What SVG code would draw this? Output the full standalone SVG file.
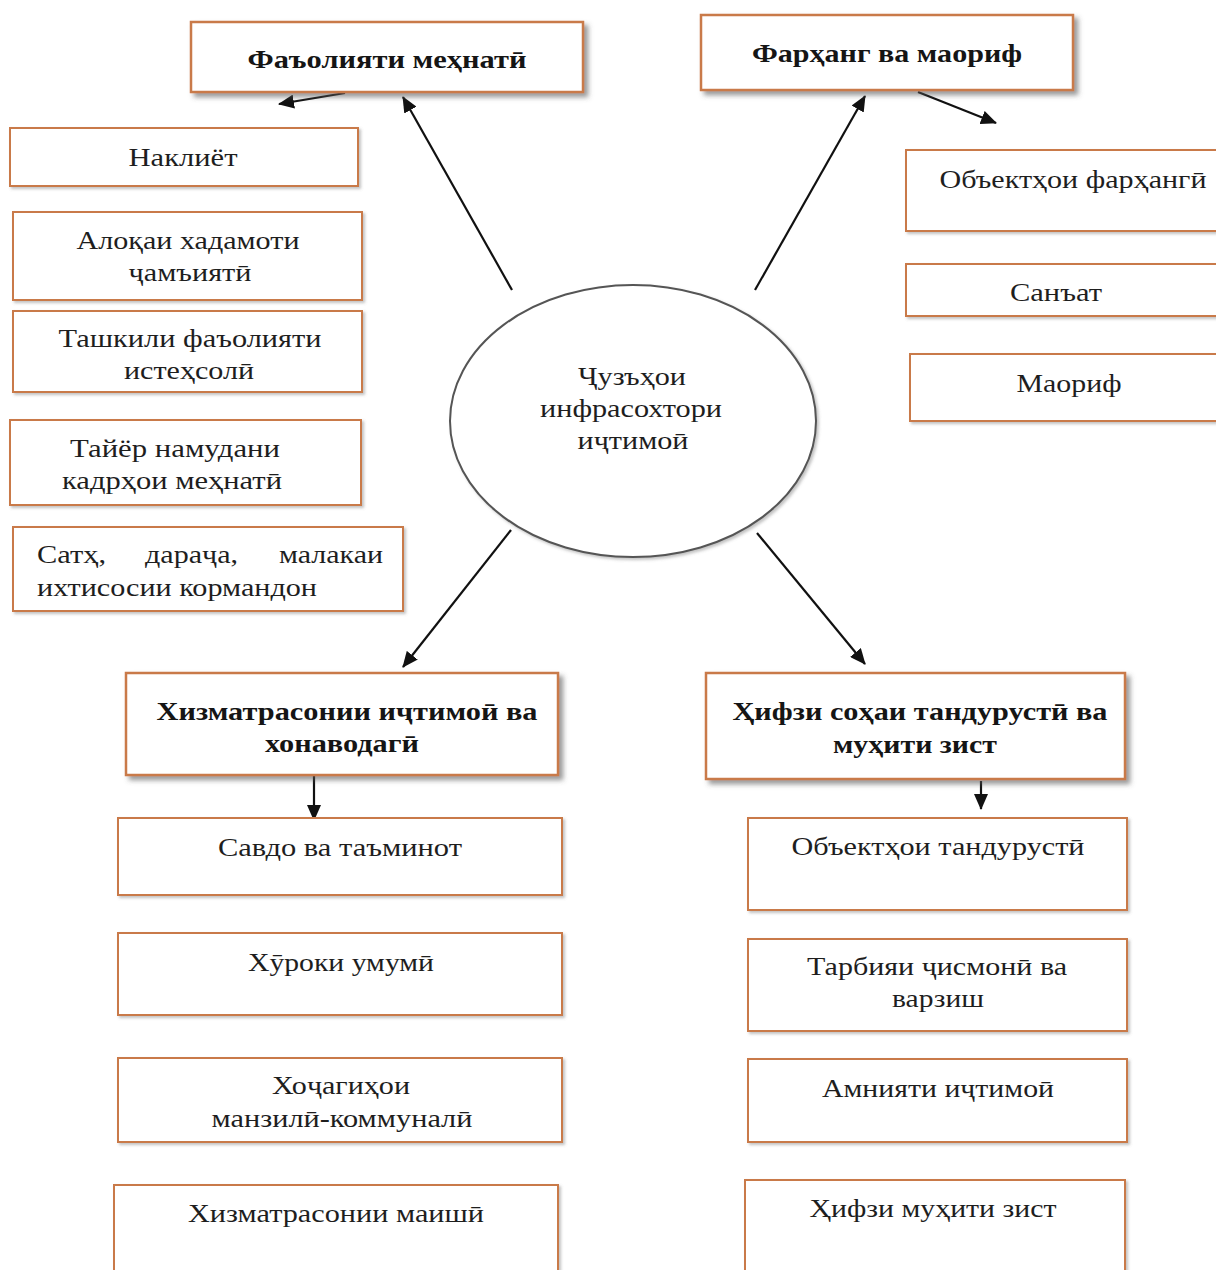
<svg xmlns="http://www.w3.org/2000/svg" width="1216" height="1270" viewBox="0 0 1216 1270">
<style>
.box{fill:#ffffff;stroke:#c97a4a;stroke-width:2}
.hbox{fill:#ffffff;stroke:#c97a4a;stroke-width:2.5;filter:url(#sh)}
.sbox{fill:#ffffff;stroke:#c97a4a;stroke-width:2;filter:url(#sh2)}
.t{font-family:"Liberation Serif","Times New Roman",serif;font-size:26px;fill:#1e1e1e;text-anchor:middle}
.b{font-family:"Liberation Serif","Times New Roman",serif;font-size:25px;font-weight:bold;fill:#151515;text-anchor:middle}
.tl{font-family:"Liberation Serif","Times New Roman",serif;font-size:26px;fill:#1e1e1e}
.c{stroke:#111;stroke-width:2.2;fill:none;marker-end:url(#ah)}
</style>
<defs>
<filter id="sh" x="-10%" y="-20%" width="130%" height="160%">
<feDropShadow dx="4" dy="4" stdDeviation="2.5" flood-color="#555" flood-opacity="0.6"/>
</filter>
<filter id="sh2" x="-10%" y="-20%" width="130%" height="160%">
<feDropShadow dx="2" dy="2" stdDeviation="1.5" flood-color="#777" flood-opacity="0.45"/>
</filter>
<marker id="ah" markerWidth="16" markerHeight="14" refX="15" refY="7" orient="auto" markerUnits="userSpaceOnUse" viewBox="0 0 16 14">
<path d="M0,0 L16,7 L0,14 Z" fill="#111"/>
</marker>
</defs>
<rect width="1216" height="1270" fill="#ffffff"/>

<g id="connectors">
<line class="c" x1="512" y1="290" x2="403" y2="97"/>
<line class="c" x1="345" y1="93" x2="279" y2="104"/>
<line class="c" x1="755" y1="290" x2="865" y2="96"/>
<line class="c" x1="918" y1="92" x2="996" y2="123"/>
<line class="c" x1="511" y1="530" x2="403" y2="667"/>
<line class="c" x1="757" y1="533" x2="865" y2="664"/>
<line class="c" x1="314" y1="776" x2="314" y2="820"/>
<line class="c" x1="981" y1="781" x2="981" y2="809"/>
</g>

<g id="center">
<ellipse cx="633" cy="421" rx="183" ry="136" fill="#ffffff" stroke="#555" stroke-width="2" filter="url(#sh2)"/>
<text class="t" x="632" y="385" textLength="108" lengthAdjust="spacingAndGlyphs">Ҷузъҳои</text>
<text class="t" x="631" y="417" textLength="182" lengthAdjust="spacingAndGlyphs">инфрасохтори</text>
<text class="t" x="633" y="449" textLength="111" lengthAdjust="spacingAndGlyphs">иҷтимоӣ</text>
</g>

<g id="faoliyat">
<rect class="hbox" x="191" y="22" width="392" height="70"/>
<text class="b" x="387" y="68" textLength="279" lengthAdjust="spacingAndGlyphs">Фаъолияти меҳнатӣ</text>
</g>
<g id="farhang">
<rect class="hbox" x="701" y="15" width="372" height="75"/>
<text class="b" x="887" y="62" textLength="270" lengthAdjust="spacingAndGlyphs">Фарҳанг ва маориф</text>
</g>

<g id="nakliyot">
<rect class="sbox" x="10" y="128" width="348" height="58"/>
<text class="t" x="183" y="166" textLength="109" lengthAdjust="spacingAndGlyphs">Наклиёт</text>
</g>
<g id="aloka">
<rect class="sbox" x="13" y="212" width="349" height="88"/>
<text class="t" x="188" y="249" textLength="223" lengthAdjust="spacingAndGlyphs">Алоқаи хадамоти</text>
<text class="t" x="190" y="281" textLength="123" lengthAdjust="spacingAndGlyphs">ҷамъиятӣ</text>
</g>
<g id="tashkil">
<rect class="sbox" x="13" y="311" width="349" height="81"/>
<text class="t" x="190" y="347" textLength="263" lengthAdjust="spacingAndGlyphs">Ташкили фаъолияти</text>
<text class="t" x="189" y="379" textLength="130" lengthAdjust="spacingAndGlyphs">истеҳсолӣ</text>
</g>
<g id="tayyor">
<rect class="sbox" x="10" y="420" width="351" height="85"/>
<text class="t" x="175" y="457" textLength="210" lengthAdjust="spacingAndGlyphs">Тайёр намудани</text>
<text class="t" x="172" y="489" textLength="220" lengthAdjust="spacingAndGlyphs">кадрҳои меҳнатӣ</text>
</g>
<g id="sath">
<rect class="sbox" x="13" y="527" width="390" height="84"/>
<text class="tl" x="37" y="563" textLength="69" lengthAdjust="spacingAndGlyphs">Сатҳ,</text>
<text class="tl" x="145" y="563" textLength="93" lengthAdjust="spacingAndGlyphs">дараҷа,</text>
<text class="tl" x="279" y="563" textLength="104" lengthAdjust="spacingAndGlyphs">малакаи</text>
<text class="tl" x="37" y="596" textLength="280" lengthAdjust="spacingAndGlyphs">ихтисосии кормандон</text>
</g>

<g id="obyekt-farhangi">
<rect class="sbox" x="906" y="150" width="320" height="81"/>
<text class="t" x="1073" y="188" textLength="267" lengthAdjust="spacingAndGlyphs">Объектҳои фарҳангӣ</text>
</g>
<g id="sanat">
<rect class="sbox" x="906" y="264" width="320" height="52"/>
<text class="t" x="1056" y="301" textLength="92" lengthAdjust="spacingAndGlyphs">Санъат</text>
</g>
<g id="maorif">
<rect class="sbox" x="910" y="354" width="316" height="67"/>
<text class="t" x="1069" y="392" textLength="105" lengthAdjust="spacingAndGlyphs">Маориф</text>
</g>

<g id="khizmat">
<rect class="hbox" x="126" y="673" width="432" height="102"/>
<text class="b" x="347" y="720" textLength="381" lengthAdjust="spacingAndGlyphs">Хизматрасонии иҷтимоӣ ва</text>
<text class="b" x="342" y="752" textLength="154" lengthAdjust="spacingAndGlyphs">хонаводагӣ</text>
</g>
<g id="hifz">
<rect class="hbox" x="706" y="673" width="419" height="106"/>
<text class="b" x="920" y="720" textLength="375" lengthAdjust="spacingAndGlyphs">Ҳифзи соҳаи тандурустӣ ва</text>
<text class="b" x="915" y="753" textLength="164" lengthAdjust="spacingAndGlyphs">муҳити зист</text>
</g>

<g id="savdo">
<rect class="sbox" x="118" y="818" width="444" height="77"/>
<text class="t" x="340" y="856" textLength="244" lengthAdjust="spacingAndGlyphs">Савдо ва таъминот</text>
</g>
<g id="khuroki">
<rect class="sbox" x="118" y="933" width="444" height="82"/>
<text class="t" x="341" y="971" textLength="186" lengthAdjust="spacingAndGlyphs">Хӯроки умумӣ</text>
</g>
<g id="khojagi">
<rect class="sbox" x="118" y="1058" width="444" height="84"/>
<text class="t" x="341" y="1094" textLength="138" lengthAdjust="spacingAndGlyphs">Хоҷагиҳои</text>
<text class="t" x="342" y="1127" textLength="261" lengthAdjust="spacingAndGlyphs">манзилӣ-коммуналӣ</text>
</g>
<g id="maishi">
<rect class="sbox" x="114" y="1185" width="444" height="95"/>
<text class="t" x="336" y="1222" textLength="296" lengthAdjust="spacingAndGlyphs">Хизматрасонии маишӣ</text>
</g>

<g id="obyekt-tandurusti">
<rect class="sbox" x="748" y="818" width="379" height="92"/>
<text class="t" x="938" y="855" textLength="293" lengthAdjust="spacingAndGlyphs">Объектҳои тандурустӣ</text>
</g>
<g id="tarbiya">
<rect class="sbox" x="748" y="939" width="379" height="92"/>
<text class="t" x="937" y="975" textLength="260" lengthAdjust="spacingAndGlyphs">Тарбияи ҷисмонӣ ва</text>
<text class="t" x="938" y="1007" textLength="92" lengthAdjust="spacingAndGlyphs">варзиш</text>
</g>
<g id="amniyat">
<rect class="sbox" x="748" y="1059" width="379" height="83"/>
<text class="t" x="938" y="1097" textLength="232" lengthAdjust="spacingAndGlyphs">Амнияти иҷтимоӣ</text>
</g>
<g id="hifz-muhit">
<rect class="sbox" x="745" y="1180" width="380" height="100"/>
<text class="t" x="933" y="1217" textLength="247" lengthAdjust="spacingAndGlyphs">Ҳифзи муҳити зист</text>
</g>
</svg>
